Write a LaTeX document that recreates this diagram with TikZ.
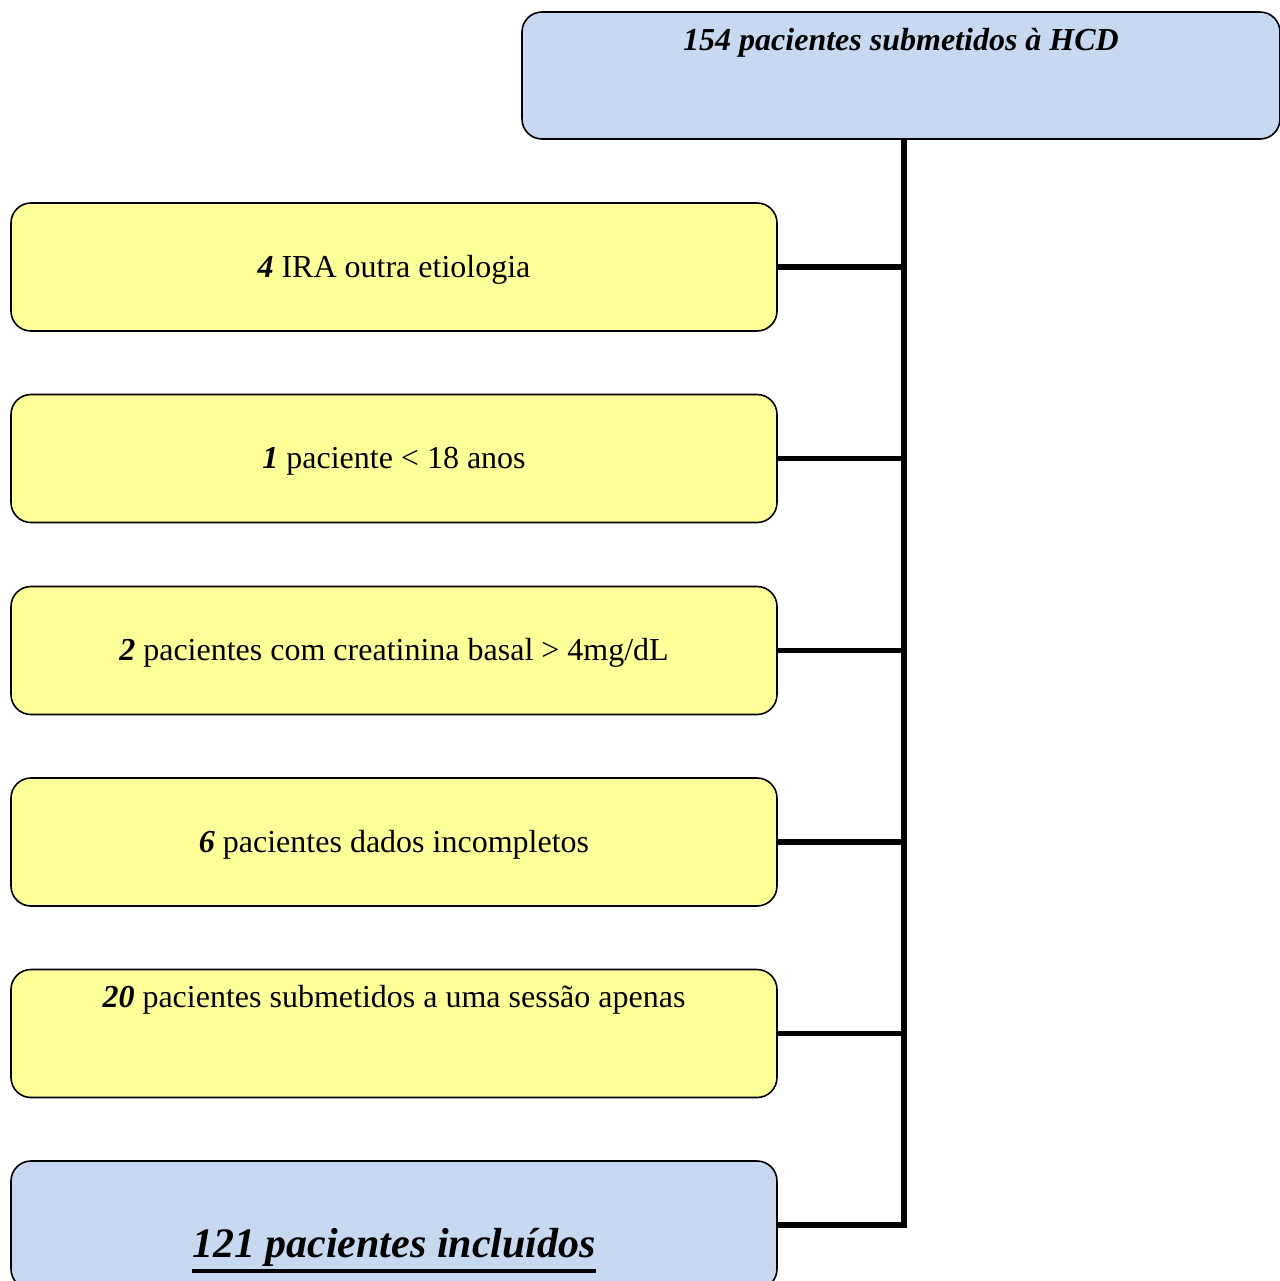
\documentclass[tikz,border=0pt]{standalone}
\usepackage{fontspec}
\setmainfont{Liberation Serif}
\usepackage{xcolor}
\definecolor{headblue}{RGB}{198,217,240}
\definecolor{exclyellow}{RGB}{255,255,153}
\usetikzlibrary{positioning,calc}
\newcommand{\fatunderline}[1]{\vtop{\hbox{#1}\kern1.5pt\hrule height 2pt}}

\begin{document}
\begin{tikzpicture}[x=0.5pt, y=-0.5pt]
        \tikzset{
          flowbox/.style={draw=black, line width=0.8pt, rounded corners=10pt,
                          minimum width=383pt, inner sep=0pt,
                          font=\fontsize{16}{19}\selectfont},
          exclbox/.style={flowbox, fill=exclyellow, text height=12pt, text depth=52pt},
          headbox/.style={flowbox, fill=headblue},
          link/.style={draw=black, line width=2.6pt}
        }
        \useasboundingbox (0,0) rectangle (1280,1281);
        % Total
        \node[headbox, minimum width=379pt, text height=19pt, text depth=44.5pt]
          (total) at (901,75.5) {\textbf{\textit{154 pacientes submetidos à HCD}}};
        % Exclusions
        \foreach \n/\y/\num/\txt in {1/267/4/{IRA outra etiologia},
                                     2/458.5/1/{paciente < 18 anos},
                                     3/650.5/2/{pacientes com creatinina basal > 4mg/dL},
                                     4/842/6/{pacientes dados incompletos}} {
          \node[exclbox, text height=37pt, text depth=27pt] (ex\n) at (394,\y)
            {\textbf{\textit{\num}} \txt};
        }
        \node[exclbox, text height=19pt, text depth=45pt] (ex5) at (394,1033.5)
          {\textbf{\textit{20}} pacientes submetidos a uma sessão apenas};
        % Included
        \node[headbox, text height=48pt, text depth=16pt,
              font=\fontsize{21}{25}\selectfont] (incl) at (394,1225)
          {\fatunderline{\textbf{\textit{121 pacientes incluídos}}}};
        % Connections
        \coordinate (spine) at (904,0);
        \draw[link] (total.south -| spine) |- (incl.east);
        \foreach \n in {1,...,5} {
          \draw[link] (ex\n.east) -- (ex\n.east -| spine);
        }
      \end{tikzpicture}
\end{document}
